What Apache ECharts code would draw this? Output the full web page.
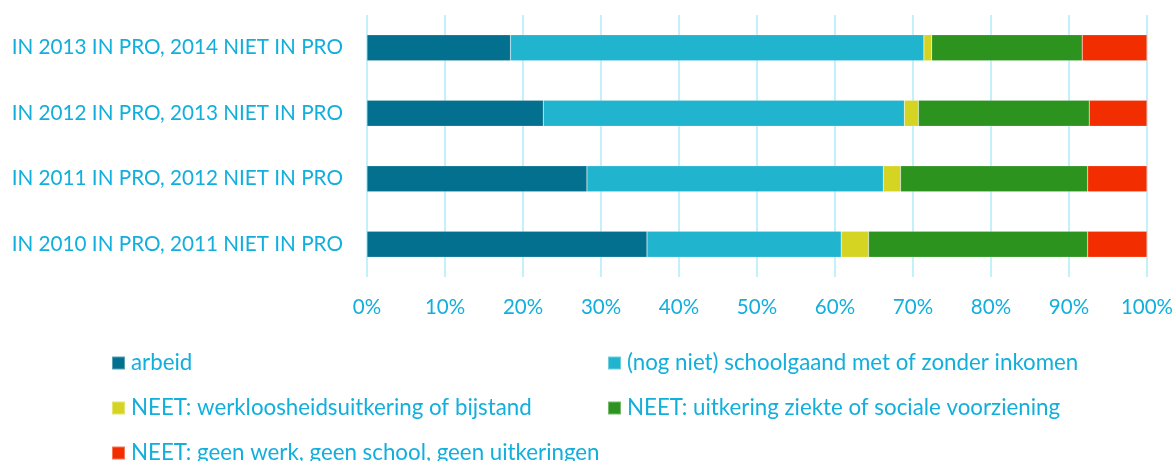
<!DOCTYPE html>
<html>
<head>
<meta charset="utf-8">
<script src="https://cdn.jsdelivr.net/npm/echarts@6/dist/echarts.min.js"></script>
<style>
  html, body { margin: 0; padding: 0; background: #fff; }
  #chart { width: 1176px; height: 461px; }
</style>
</head>
<body>
<div id="chart"></div>
<script>
// categories, bottom to top
const categories = [
  'IN 2010 IN PRO, 2011 NIET IN PRO',
  'IN 2011 IN PRO, 2012 NIET IN PRO',
  'IN 2012 IN PRO, 2013 NIET IN PRO',
  'IN 2013 IN PRO, 2014 NIET IN PRO'
]

const seriesNames = [
  'arbeid',
  '(nog niet) schoolgaand met of zonder inkomen',
  'NEET: werkloosheidsuitkering of bijstand',
  'NEET: uitkering ziekte of sociale voorziening',
  'NEET: geen werk, geen school, geen uitkeringen'
]

const arbeid = [35.9, 28.2, 22.6, 18.4]
const schoolgaand = [24.9, 38.0, 46.3, 53.0]
const werkloos = [3.5, 2.2, 1.8, 1.0]
const ziekte = [28.1, 24.0, 21.9, 19.3]
const geenUitkering = [7.6, 7.6, 7.4, 8.3]

const xTicks = [0, 10, 20, 30, 40, 50, 60, 70, 80, 90, 100]

const colors = ['#04708f', '#20b4ce', '#d5d423', '#2c941e', '#f22e00']
const textColor = '#12afdd'
const font = 'Lato'

const chart = echarts.init(document.getElementById('chart'))

const values = [arbeid, schoolgaand, werkloos, ziekte, geenUitkering]

// legend slot for each series: [left, vertical centre]
const legendPos = [[111, 362], [607, 362], [111, 407], [607, 407], [111, 452]]

chart.setOption({
  animation: false,
  color: colors,
  grid: {left: 367, right: 29, top: 15, height: 262},
  xAxis: {
    type: 'value',
    min: xTicks[0],
    max: xTicks[xTicks.length - 1],
    interval: 10,
    axisLine: {show: false},
    axisTick: {show: false},
    axisLabel: {
      color: textColor,
      fontSize: 20.5,
      fontFamily: font,
      margin: 20,
      formatter: v => v + '%'
    },
    splitLine: {lineStyle: {color: '#c4f0fb', width: 2}}
  },
  yAxis: {
    type: 'category',
    data: categories,
    axisLine: {show: false},
    axisTick: {show: false},
    axisLabel: {color: textColor, fontSize: 20.7, fontFamily: font, margin: 24}
  },
  legend: seriesNames.map((name, i) => ({
    left: legendPos[i][0],
    top: legendPos[i][1] - 10,
    padding: 0,
    icon: 'rect',
    itemWidth: 13,
    itemHeight: 13,
    selectedMode: false,
    data: [name],
    textStyle: {color: textColor, fontSize: 22.3, fontFamily: font, lineHeight: 22, padding: [0, 0, 0, 1]}
  })),
  series: seriesNames.map((name, i) => ({
    name: name,
    type: 'bar',
    stack: 'total',
    barWidth: 26,
    data: values[i],
    itemStyle: {borderColor: 'rgba(255,255,255,0.35)', borderWidth: 0.5}
  }))
})
</script>
</body>
</html>
